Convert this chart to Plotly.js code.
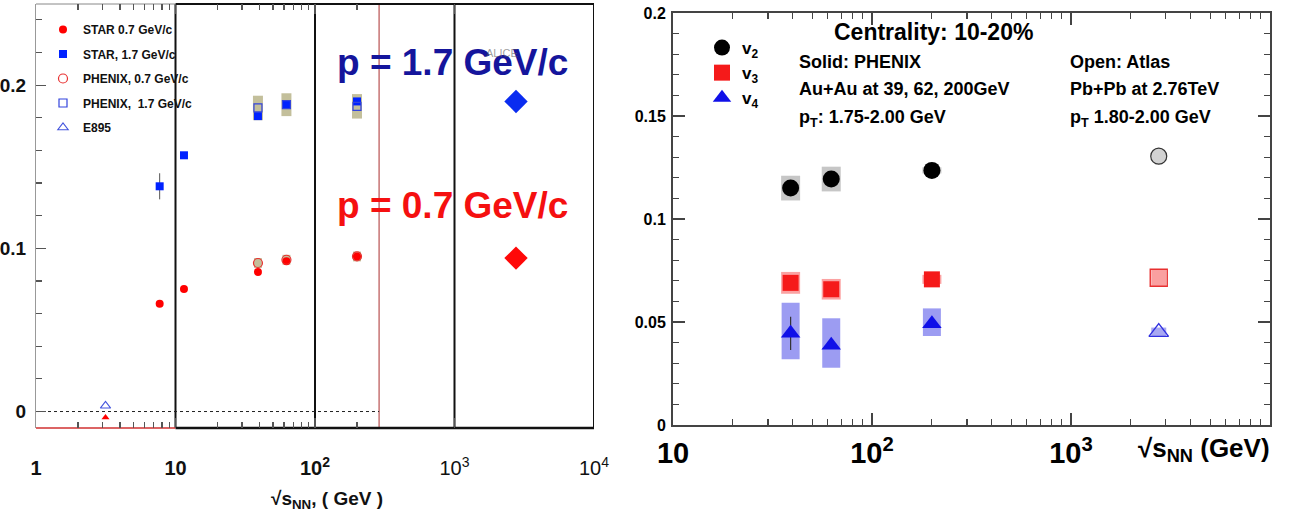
<!DOCTYPE html>
<html><head><meta charset="utf-8">
<script src="https://cdn.plot.ly/plotly-3.0.1.min.js"></script>
<style>html,body{margin:0;padding:0;background:#fff;}#chart{width:1293px;height:522px;}</style>
</head><body><div id="chart"></div>
<script>
// ---------- Left panel data (v2 vs sqrt(sNN)) ----------
const starEnergy = [7.7, 11.5, 39, 62.4, 200];
const starV2p07 = [0.066, 0.075, 0.0855, 0.092, 0.095];
const starV2p17 = [0.138, 0.157, 0.181, 0.188, 0.190];
const starV2p17Err = [0.008, 0, 0, 0, 0];
const phenixEnergy = [39, 62.4, 200];
const phenixV2p07 = [0.091, 0.093, 0.095];
const phenixV2p07Sys = [0.003, 0.003, 0.003];
const phenixV2p17 = [0.186, 0.188, 0.187];
const phenixV2p17Sys = [0.0075, 0.007, 0.0075];
const e895Energy = [3.15];
const e895V2 = [0.0035];
const e895V2Red = [-0.0037];
const aliceEnergy = [2760];
const aliceV2p07 = [0.094];
const aliceV2p17 = [0.190];
const leftXTickVals = [1, 10, 100, 1000, 10000];
const leftXTickText = ['1', '10', '10<sup>2</sup>',
  '<span style="font-family:Liberation Sans;font-weight:normal;">10<sup>3</sup></span>',
  '<span style="font-family:Liberation Sans;font-weight:normal;">10<sup>4</sup></span>'];
const leftYTickVals = [0, 0.1, 0.2];
const leftYTickText = ['0', '0.1', '0.2'];

// ---------- Right panel data (vn vs sqrt(sNN)) ----------
const phenixE = [39, 62.4, 200];
const v2 = [0.115, 0.1194, 0.1236];
const v2Sys = [0.006, 0.006, 0.0015];
const v3 = [0.069, 0.0659, 0.0707];
const v3Sys = [0.0053, 0.005, 0.0022];
const v4 = [0.0445, 0.0387, 0.0492];
const v4SysPlus = [0.0149, 0.0131, 0.0074];
const v4SysMinus = [0.0126, 0.0109, 0.006];
const v4Stat = [0.0081, 0, 0];
const atlasE = [2760];
const atlasV2 = [0.1305];
const atlasV3 = [0.0715];
const atlasV3Sys = [0.004];
const atlasV4 = [0.0451];
const atlasV4Sys = [0.0022];
const rightXTickVals = [10, 100, 1000];
const rightXTickText = ['10', '10<sup>2</sup>', '10<sup>3</sup>'];
const rightYTickVals = [0, 0.05, 0.1, 0.15, 0.2];
const rightYTickText = ['0', '0.05', '0.1', '0.15', '0.2'];

const W = 1293, H = 522;
const NARROW = 'Liberation Sans Narrow, Arial Narrow, Liberation Sans, Arial, sans-serif';
const SANS = 'Liberation Sans, Arial, Helvetica, sans-serif';
const OLIVE = '#c3bf9b';
const TICKC = '#555';

function minorLog(lo, hi) {
  const out = [];
  for (let d = lo; d < hi; d *= 10) for (let k = 2; k <= 9; k++) out.push(k * d);
  return out;
}
function minorLin(lo, hi, step, major) {
  const out = [];
  for (let v = lo; v <= hi + 1e-9; v += step) {
    const r = Math.round(v * 1000) / 1000;
    if (!major.some(m => Math.abs(m - r) < 1e-6)) out.push(r);
  }
  return out;
}

const traces = [
  // ---- Left: systematic boxes ----
  {x: phenixEnergy, y: phenixV2p17, xaxis: 'x', yaxis: 'y', mode: 'markers', type: 'scatter',
   marker: {size: 1, opacity: 0}, showlegend: false, hoverinfo: 'skip',
   error_y: {type: 'data', array: phenixV2p17Sys, thickness: 10, width: 0, color: OLIVE}},
  {x: phenixEnergy, y: phenixV2p07, xaxis: 'x', yaxis: 'y', mode: 'markers', type: 'scatter',
   marker: {size: 1, opacity: 0}, showlegend: false, hoverinfo: 'skip',
   error_y: {type: 'data', array: phenixV2p07Sys, thickness: 8, width: 0, color: OLIVE}},
  // ---- Left: data ----
  {x: starEnergy, y: starV2p07, xaxis: 'x', yaxis: 'y', mode: 'markers', type: 'scatter',
   name: 'STAR 0.7 GeV/c', legend: 'legend', legendgroup: 'a',
   marker: {symbol: 'circle', size: 8, color: '#ff0000'}},
  {x: starEnergy, y: starV2p17, xaxis: 'x', yaxis: 'y', mode: 'markers', type: 'scatter',
   name: 'STAR, 1.7 GeV/c', legend: 'legend', legendgroup: 'b',
   error_y: {type: 'data', array: starV2p17Err, thickness: 1, width: 0, color: '#555'},
   marker: {symbol: 'square', size: 8, color: '#0022ff'}},
  {x: phenixEnergy, y: phenixV2p07, xaxis: 'x', yaxis: 'y', mode: 'markers', type: 'scatter',
   name: 'PHENIX, 0.7 GeV/c', legend: 'legend', legendgroup: 'c',
   marker: {symbol: 'circle-open', size: 9, color: '#e83030', line: {width: 1.2}}},
  {x: phenixEnergy, y: phenixV2p17, xaxis: 'x', yaxis: 'y', mode: 'markers', type: 'scatter',
   name: 'PHENIX,\u00a0 1.7 GeV/c', legend: 'legend', legendgroup: 'd',
   marker: {symbol: 'square-open', size: 8, color: '#3344dd', line: {width: 1.2}}},
  {x: e895Energy, y: e895V2Red, xaxis: 'x', yaxis: 'y', mode: 'markers', type: 'scatter',
   showlegend: false, marker: {symbol: 'triangle-up', size: 7, color: '#ff0000'}},
  {x: e895Energy, y: e895V2, xaxis: 'x', yaxis: 'y', mode: 'markers', type: 'scatter',
   name: 'E895', legend: 'legend', legendgroup: 'e',
   marker: {symbol: 'triangle-up-open', size: 9, color: '#4455dd', line: {width: 1.1}}},
  {x: aliceEnergy, y: aliceV2p17, xaxis: 'x', yaxis: 'y', mode: 'markers', type: 'scatter',
   showlegend: false, marker: {symbol: 'diamond', size: 18, color: '#0a2cf0'}},
  {x: aliceEnergy, y: aliceV2p07, xaxis: 'x', yaxis: 'y', mode: 'markers', type: 'scatter',
   showlegend: false, marker: {symbol: 'diamond', size: 18, color: '#ff0808'}},

  // ---- Right: systematic boxes ----
  {x: phenixE, y: v2, xaxis: 'x2', yaxis: 'y2', mode: 'markers', type: 'scatter',
   marker: {size: 1, opacity: 0}, showlegend: false, hoverinfo: 'skip',
   error_y: {type: 'data', array: v2Sys, thickness: 19, width: 0, color: '#c6c6c6'}},
  {x: phenixE, y: v3, xaxis: 'x2', yaxis: 'y2', mode: 'markers', type: 'scatter',
   marker: {size: 1, opacity: 0}, showlegend: false, hoverinfo: 'skip',
   error_y: {type: 'data', array: v3Sys, thickness: 19, width: 0, color: 'rgba(248,100,100,0.6)'}},
  {x: phenixE, y: v4, xaxis: 'x2', yaxis: 'y2', mode: 'markers', type: 'scatter',
   marker: {size: 1, opacity: 0}, showlegend: false, hoverinfo: 'skip',
   error_y: {type: 'data', symmetric: false, array: v4SysPlus, arrayminus: v4SysMinus, thickness: 18, width: 0, color: '#9c9cf2'}},
  {x: atlasE, y: atlasV3, xaxis: 'x2', yaxis: 'y2', mode: 'markers', type: 'scatter',
   marker: {size: 1, opacity: 0}, showlegend: false, hoverinfo: 'skip',
   error_y: {type: 'data', array: atlasV3Sys, thickness: 15, width: 0, color: 'rgba(248,120,120,0.7)'}},
  {x: atlasE, y: atlasV4, xaxis: 'x2', yaxis: 'y2', mode: 'markers', type: 'scatter',
   marker: {size: 1, opacity: 0}, showlegend: false, hoverinfo: 'skip',
   error_y: {type: 'data', array: atlasV4Sys, thickness: 15, width: 0, color: '#a8a8f2'}},
  // ---- Right: data ----
  {x: phenixE, y: v2, xaxis: 'x2', yaxis: 'y2', mode: 'markers', type: 'scatter',
   name: 'v<sub>2</sub>', legend: 'legend2',
   marker: {symbol: 'circle', size: 17, color: '#000000'}},
  {x: phenixE, y: v3, xaxis: 'x2', yaxis: 'y2', mode: 'markers', type: 'scatter',
   name: 'v<sub>3</sub>', legend: 'legend2',
   marker: {symbol: 'square', size: 16, color: '#f51a1a'}},
  {x: phenixE, y: v4, xaxis: 'x2', yaxis: 'y2', mode: 'markers', type: 'scatter',
   name: 'v<sub>4</sub>', legend: 'legend2',
   error_y: {type: 'data', array: v4Stat, thickness: 1.2, width: 0, color: '#333'},
   marker: {symbol: 'triangle-up', size: 17, color: '#1010e8'}},
  {x: atlasE, y: atlasV2, xaxis: 'x2', yaxis: 'y2', mode: 'markers', type: 'scatter',
   showlegend: false, marker: {symbol: 'circle', size: 16, color: '#d2d2d2', line: {color: '#333', width: 1.2}}},
  {x: atlasE, y: atlasV3, xaxis: 'x2', yaxis: 'y2', mode: 'markers', type: 'scatter',
   showlegend: false, marker: {symbol: 'square-open', size: 17, color: '#e83030', line: {width: 1.4}}},
  {x: atlasE, y: atlasV4, xaxis: 'x2', yaxis: 'y2', mode: 'markers', type: 'scatter',
   showlegend: false, marker: {symbol: 'triangle-up-open', size: 17, color: '#3030e0', line: {width: 1.4}}}
];

const leftDom = [36 / W, 594 / W];
const leftYDom = [1 - 428 / H, 1 - 4 / H];
const rightDom = [673 / W, 1270 / W];
const rightYDom = [1 - 425 / H, 1 - 13 / H];
const rootEdgeX = 288;

function vline(x, color, width) {
  return {type: 'line', layer: 'below', xref: 'x', yref: 'y domain', x0: x, x1: x, y0: 0, y1: 1, line: {color: color, width: width}};
}
function hline(x0, x1, yd, color, width) {
  return {type: 'line', layer: 'below', xref: 'x', yref: 'y domain', x0: x0, x1: x1, y0: yd, y1: yd, line: {color: color, width: width}};
}

const layout = {
  width: W, height: H,
  margin: {l: 0, r: 0, t: 0, b: 0},
  paper_bgcolor: '#ffffff', plot_bgcolor: 'rgba(0,0,0,0)',
  showlegend: true,
  xaxis: {
    type: 'log', range: [0, 4], domain: leftDom, anchor: 'y',
    showgrid: false, zeroline: false, showline: true, linecolor: 'rgba(0,0,0,0)', linewidth: 1,
    ticks: 'inside', ticklen: 10, tickcolor: TICKC, tickwidth: 1.2, mirror: 'ticks',
    tickmode: 'array', tickvals: leftXTickVals, ticktext: leftXTickText,
    tickfont: {family: NARROW, size: 20, color: '#111', weight: 'bold'},
    ticklabelstandoff: 22,
    minor: {tickmode: 'array', tickvals: minorLog(1, 300).filter(v => v <= 200), ticks: 'inside', ticklen: 6, tickcolor: TICKC, tickwidth: 1.2, showgrid: false}
  },
  yaxis: {
    range: [-0.0101, 0.2497], domain: leftYDom, anchor: 'x',
    showgrid: false, zeroline: false, showline: true, linecolor: '#999', linewidth: 1,
    ticks: 'inside', ticklen: 10, tickcolor: TICKC, tickwidth: 1.2,
    tickmode: 'array', tickvals: leftYTickVals, ticktext: leftYTickText,
    tickfont: {family: NARROW, size: 19, color: '#111', weight: 'bold'},
    ticklabelstandoff: 5,
    minor: {tickmode: 'array', tickvals: minorLin(0.02, 0.24, 0.02, leftYTickVals), ticks: 'inside', ticklen: 6, tickcolor: TICKC, tickwidth: 1.2, showgrid: false}
  },
  xaxis2: {
    type: 'log', range: [1, 4], domain: rightDom, anchor: 'y2',
    showgrid: false, zeroline: false, showline: true, linecolor: '#444', linewidth: 2, mirror: 'ticks',
    ticks: 'inside', ticklen: 12, tickcolor: '#444', tickwidth: 1.3,
    tickmode: 'array', tickvals: rightXTickVals, ticktext: rightXTickText,
    tickfont: {family: SANS, size: 29, color: '#000', weight: 'bold'},
    ticklabelstandoff: 1,
    minor: {tickmode: 'array', tickvals: minorLog(10, 10000), ticks: 'inside', ticklen: 6, tickcolor: '#444', tickwidth: 1.1, showgrid: false}
  },
  yaxis2: {
    range: [0, 0.2], domain: rightYDom, anchor: 'x2',
    showgrid: false, zeroline: false, showline: true, linecolor: '#444', linewidth: 2, mirror: 'ticks',
    ticks: 'inside', ticklen: 12, tickcolor: '#444', tickwidth: 1.3,
    tickmode: 'array', tickvals: rightYTickVals, ticktext: rightYTickText,
    tickfont: {family: SANS, size: 16, color: '#000', weight: 'bold'},
    ticklabelstandoff: 2,
    minor: {tickmode: 'array', tickvals: minorLin(0.01, 0.19, 0.01, rightYTickVals), ticks: 'inside', ticklen: 6, tickcolor: '#444', tickwidth: 1.1, showgrid: false}
  },
  legend: {
    x: 43 / W, y: 1 - 15 / H, xanchor: 'left', yanchor: 'top',
    bgcolor: 'rgba(0,0,0,0)', borderwidth: 0,
    traceorder: 'grouped', tracegroupgap: 5.5,
    font: {family: NARROW, size: 12, color: '#111', weight: 'bold'},
    itemclick: false
  },
  legend2: {
    x: 702 / W, y: 1 - 30 / H, xanchor: 'left', yanchor: 'top',
    bgcolor: 'rgba(0,0,0,0)', borderwidth: 0,
    font: {family: SANS, size: 17, color: '#000', weight: 'bold'},
    itemclick: false
  },
  shapes: [
    // original ROOT frame edges and the extension boxes drawn over it
    vline(rootEdgeX, '#b85050', 1.2),
    vline(10, '#111', 2), vline(100, '#111', 2), vline(1000, '#111', 2), vline(10000, '#111', 2),
    hline(10, 10000, 1, '#111', 2),
    hline(10, 10000, 0, '#111', 2.5),
    hline(1, 10, 1, '#888', 1),
    hline(1, 10, 0, '#d03030', 1.5),
    {type: 'line', layer: 'below', xref: 'x', yref: 'y', x0: 1, x1: rootEdgeX, y0: 0, y1: 0, line: {color: '#222', width: 1, dash: 'dot'}}
  ],
  annotations: [
    {xref: 'paper', yref: 'paper', x: 327 / W, y: 1 - 500 / H, xanchor: 'center', yanchor: 'middle', showarrow: false,
     text: '\u221As<sub>NN</sub>, ( GeV )', font: {family: NARROW, size: 19, color: '#111', weight: 'bold'}},
    {xref: 'paper', yref: 'paper', x: 452 / W, y: 1 - 62 / H, xanchor: 'center', yanchor: 'middle', showarrow: false,
     text: 'p = 1.7 GeV/c', font: {family: SANS, size: 37, color: '#15159c', weight: 'bold'}},
    {xref: 'paper', yref: 'paper', x: 452 / W, y: 1 - 205 / H, xanchor: 'center', yanchor: 'middle', showarrow: false,
     text: 'p = 0.7 GeV/c', font: {family: SANS, size: 37, color: '#f51010', weight: 'bold'}},
    {xref: 'paper', yref: 'paper', x: 502 / W, y: 1 - 53 / H, xanchor: 'center', yanchor: 'middle', showarrow: false,
     text: 'ALICE', font: {family: SANS, size: 11, color: 'rgba(90,90,90,0.6)'}},
    {xref: 'paper', yref: 'paper', x: 933 / W, y: 1 - 32 / H, xanchor: 'center', yanchor: 'middle', showarrow: false,
     text: 'Centrality: 10-20%', font: {family: SANS, size: 23, color: '#000', weight: 'bold'}},
    {xref: 'paper', yref: 'paper', x: 797 / W, y: 1 - 62 / H, xanchor: 'left', yanchor: 'middle', showarrow: false,
     text: 'Solid: PHENIX', font: {family: SANS, size: 18, color: '#000', weight: 'bold'}},
    {xref: 'paper', yref: 'paper', x: 797 / W, y: 1 - 89 / H, xanchor: 'left', yanchor: 'middle', showarrow: false,
     text: 'Au+Au at 39, 62, 200GeV', font: {family: SANS, size: 18, color: '#000', weight: 'bold'}},
    {xref: 'paper', yref: 'paper', x: 797 / W, y: 1 - 118 / H, xanchor: 'left', yanchor: 'middle', showarrow: false,
     text: 'p<sub>T</sub>: 1.75-2.00 GeV', font: {family: SANS, size: 18, color: '#000', weight: 'bold'}},
    {xref: 'paper', yref: 'paper', x: 1068 / W, y: 1 - 62 / H, xanchor: 'left', yanchor: 'middle', showarrow: false,
     text: 'Open: Atlas', font: {family: SANS, size: 18, color: '#000', weight: 'bold'}},
    {xref: 'paper', yref: 'paper', x: 1068 / W, y: 1 - 89 / H, xanchor: 'left', yanchor: 'middle', showarrow: false,
     text: 'Pb+Pb at 2.76TeV', font: {family: SANS, size: 18, color: '#000', weight: 'bold'}},
    {xref: 'paper', yref: 'paper', x: 1068 / W, y: 1 - 118 / H, xanchor: 'left', yanchor: 'middle', showarrow: false,
     text: 'p<sub>T</sub> 1.80-2.00 GeV', font: {family: SANS, size: 18, color: '#000', weight: 'bold'}},
    {xref: 'paper', yref: 'paper', x: 1272 / W, y: 1 - 449 / H, xanchor: 'right', yanchor: 'middle', showarrow: false,
     text: '\u221As<sub>NN</sub> (GeV)', font: {family: SANS, size: 26, color: '#000', weight: 'bold'}}
  ]
};

Plotly.newPlot('chart', traces, layout, {displayModeBar: false, staticPlot: true});
</script>
</body></html>
